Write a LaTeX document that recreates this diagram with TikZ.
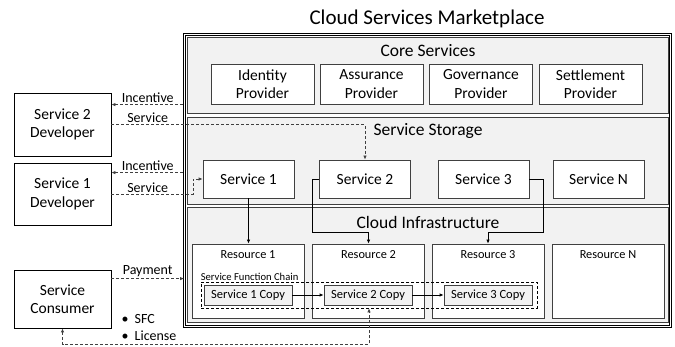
\documentclass[tikz,border=0pt]{standalone}
\usepackage{fontspec}
\setmainfont{Carlito}
\usetikzlibrary{arrows.meta,positioning}

\definecolor{panelgray}{HTML}{F2F2F2}
\definecolor{linegray}{HTML}{404040}

\begin{document}
\begin{tikzpicture}[x=1pt, y=-1pt, >={Latex[length=4pt,width=3.5pt]},
	box/.style={draw=black, fill=white, line width=0.8pt, align=center, inner sep=0pt, font=\fontsize{15.5}{18.5}\selectfont},
	panel/.style={draw=linegray, fill=panelgray, line width=0.8pt, inner sep=0pt, minimum width=481},
	head/.style={inner sep=0pt, font=\fontsize{17.5}{21}\selectfont},
	res/.style={draw=linegray, fill=white, line width=0.8pt, inner sep=0pt, minimum width=112, minimum height=74},
	rlbl/.style={inner sep=0pt, font=\fontsize{12.3}{15}\selectfont},
	copybox/.style={draw=linegray, fill=panelgray, line width=0.8pt, inner sep=0pt, minimum width=88, minimum height=20, font=\fontsize{12.5}{15}\selectfont},
	flow/.style={draw=linegray, line width=0.8pt, dash pattern=on 3pt off 2pt},
	link/.style={draw=black, line width=0.8pt},
	lbl/.style={inner sep=1.5pt, font=\fontsize{14}{17}\selectfont}]

\useasboundingbox (0,0) rectangle (675,347);

%marketplace
\node [draw=black, double=white, line width=0.9pt, double distance=1pt, inner sep=0pt, minimum width=486, minimum height=292] (mkt) at (427.5,180.5) {};
\node [inner sep=0pt, font=\fontsize{21}{25}\selectfont] (title) at (427,19) {Cloud Services Marketplace};

%paneles
\node [panel, minimum height=76] (core) at (427.5,75) {};
\node [panel, minimum height=87] (store) at (427.5,160.5) {};
\node [panel, minimum height=115] (infra) at (427.5,264.5) {};
\node [head] (hcore) at (428,51) {Core Services};
\node [head] (hstore) at (428,131) {Service Storage};
\node [head] (hinfra) at (428,222) {Cloud Infrastructure};

%providers
\node [box, draw=linegray, minimum width=103, minimum height=40] (idp) at (262.5,84) {Identity\\Provider};
\node [box, draw=linegray, minimum width=103, minimum height=40] (asp) at (371.5,84) {Assurance\\Provider};
\node [box, draw=linegray, minimum width=103, minimum height=40] (gvp) at (481,84) {Governance\\Provider};
\node [box, draw=linegray, minimum width=103, minimum height=40] (stp) at (590.5,84) {Settlement\\Provider};

%services
\node [box, draw=linegray, minimum width=91, minimum height=38] (s1) at (248.5,179) {Service 1};
\node [box, draw=linegray, minimum width=91, minimum height=38] (s2) at (365,179) {Service 2};
\node [box, draw=linegray, minimum width=91, minimum height=38] (s3) at (483.5,179) {Service 3};
\node [box, draw=linegray, minimum width=91, minimum height=38] (sn) at (598.5,179) {Service N};

%resources
\node [res] (r1) at (248,281) {};
\node [res] (r2) at (368.5,281) {};
\node [res] (r3) at (488,281) {};
\node [res] (rn) at (608,281) {};
\node [rlbl, below=6.5pt] (tr1) at (r1.north) {Resource 1};
\node [rlbl, below=6.5pt] (tr2) at (r2.north) {Resource 2};
\node [rlbl, below=6.5pt] (tr3) at (r3.north) {Resource 3};
\node [rlbl, below=6.5pt] (trn) at (rn.north) {Resource N};

%chain
\node [flow, draw=black, inner sep=0pt, minimum width=336, minimum height=26] (sfc) at (369,295) {};
\node [inner sep=1pt, inner xsep=0pt, anchor=south west, font=\fontsize{10.6}{13}\selectfont] (tsfc) at (sfc.north west) {Service Function Chain};
\node [copybox] (c1) at (248,295) {Service 1 Copy};
\node [copybox] (c2) at (368,295) {Service 2 Copy};
\node [copybox] (c3) at (488,295) {Service 3 Copy};

%actores
\node [box, minimum width=97, minimum height=63] (dev2) at (62.5,124.5) {Service 2\\Developer};
\node [box, minimum width=97, minimum height=62] (dev1) at (62.5,194) {Service 1\\Developer};
\node [box, minimum width=97, minimum height=58] (con) at (62.5,299) {Service\\Consumer};
\node [lbl, anchor=west, align=left] (items) at (120,328) {\textbullet\hspace{6pt}SFC\\\textbullet\hspace{6pt}License};

%lineas
\coordinate (inc2) at ([yshift=-12pt]dev2.north east);
\coordinate (inc1) at ([yshift=-10pt]dev1.north east);
\coordinate (pay) at ([yshift=-9pt]con.north east);

\draw [flow,<-] (inc2) -- (inc2 -| mkt.west) node [lbl, above, midway] (linc2) {Incentive};
\draw [flow,->] (dev2.east) -| (s2.north);
\node [lbl, above] (lsv2) at (dev2.east -| linc2) {Service};

\draw [flow,<-] (inc1) -- (inc1 -| mkt.west) node [lbl, above, midway] (linc1) {Incentive};
\draw [flow,->] (dev1.east) -- ++(82,0) |- (s1.west);
\node [lbl, above] (lsv1) at (dev1.east -| linc1) {Service};

\draw [flow,->] (pay) -- (pay -| mkt.west) node [lbl, above, midway] (lpay) {Payment};
\draw [flow,<->] (con.south) -- ++(0,16) -| (sfc.south);

\draw [link,->] (s1.south) -- (s1.south |- r1.north);
\draw [link,->] (s2.west) -- ++(-7,0) -- ++(0,53) -| (r2.north);
\draw [link,->] (s3.east) -- ++(14,0) -- ++(0,53) -| (r3.north);
\draw [link,->] (c1) -- (c2);
\draw [link,->] (c2) -- (c3);

\end{tikzpicture}
\end{document}
